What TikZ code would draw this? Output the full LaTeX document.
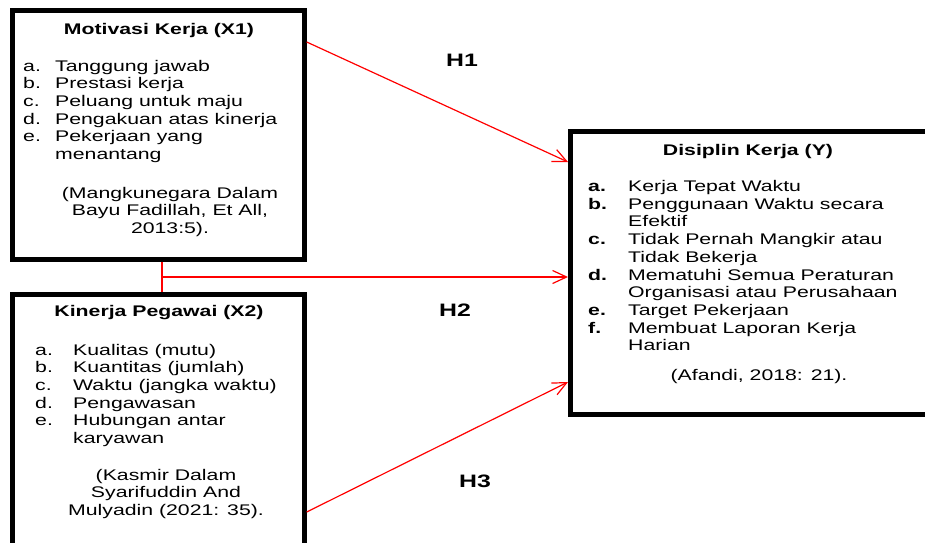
\documentclass[tikz,border=0pt]{standalone}
\usepackage{array}
\usepackage{fontspec}
\setmainfont{Liberation Sans}[FakeStretch=1.38]
\usetikzlibrary{arrows.meta,calc}
\newcommand{\bodysize}{\fontsize{15.4}{17.7}\selectfont}
\tikzset{
	box/.style={draw=black, line width=5pt, anchor=north west, inner sep=0pt},
	txt/.style={inner sep=0pt, font=\bodysize},
	hlabel/.style={inner sep=0pt, font=\fontsize{18}{20}\selectfont\bfseries},
	link/.style={draw=red, line width=1.2pt, -{Straight Barb[length=14pt,width=13pt]}}
}

\begin{document}
\begin{tikzpicture}[x=1pt, y=-1pt]
				\useasboundingbox (0,0) rectangle (925,542);
				
				\node[box, minimum width=291.7pt, minimum height=248.4pt] (x1) at (10,8.3) {};
				\node[txt, anchor=base, font=\bodysize\bfseries] (x1title) at (159,34.5) {Motivasi Kerja (X1)};
				\node[txt, anchor=base west] (x1list) at (23,71) {\begin{tabular}[t]{@{}p{32pt}@{}l@{}}
					a. & Tanggung jawab\\
					b. & Prestasi kerja\\
					c. & Peluang untuk maju\\
					d. & Pengakuan atas kinerja\\
					e. & Pekerjaan yang\\
					   & menantang
				\end{tabular}};
				\node[txt, anchor=base] (x1src) at (170,198) {\begin{tabular}[t]{@{}c@{}}
					(Mangkunegara Dalam\\ Bayu Fadillah, Et All,\\ 2013:5).
				\end{tabular}};
				
				\node[box, minimum width=291.7pt, minimum height=265pt] (x2) at (10,291.7) {};
				\node[txt, anchor=base, font=\bodysize\bfseries] (x2title) at (159,316.7) {Kinerja Pegawai (X2)};
				\node[txt, anchor=base west] (x2list) at (35,355) {\begin{tabular}[t]{@{}p{38pt}@{}l@{}}
					a. & Kualitas (mutu)\\
					b. & Kuantitas (jumlah)\\
					c. & Waktu (jangka waktu)\\
					d. & Pengawasan\\
					e. & Hubungan antar\\
					   & karyawan
				\end{tabular}};
				\node[txt, anchor=base] (x2src) at (166,480) {\begin{tabular}[t]{@{}c@{}}
					(Kasmir Dalam\\ Syarifuddin And\\ Mulyadin (2021: 35).
				\end{tabular}};
				
				\node[box, minimum width=367pt, minimum height=283pt] (y) at (568,129) {};
				\node[txt, anchor=base, font=\bodysize\bfseries] (ytitle) at (748,155) {Disiplin Kerja (Y)};
				\node[txt, anchor=base west] (ylist) at (588,191.5) {\begin{tabular}[t]{@{}>{\bfseries}p{40pt}@{}l@{}}
					a. & Kerja Tepat Waktu\\
					b. & Penggunaan Waktu secara\\
					   & Efektif\\
					c. & Tidak Pernah Mangkir atau\\
					   & Tidak Bekerja\\
					d. & Mematuhi Semua Peraturan\\
					   & Organisasi atau Perusahaan\\
					e. & Target Pekerjaan\\
					f. & Membuat Laporan Kerja\\
					   & Harian
				\end{tabular}};
				\node[txt, anchor=base] (ysrc) at (759,380) {(Afandi, 2018: 21).};
				
				\coordinate (jn) at ($(x1.south)+(3.6pt,-15.3pt)$);
				\draw[link] ([yshift=-33.7pt]x1.north east) -- ([yshift=-33pt]y.north west);
				\draw[red, line width=1.2pt] ([xshift=3.6pt]x1.south) -- ([xshift=3.6pt]x2.north);
				\draw[link] (jn) -- (jn -| y.west);
				\draw[link] ([yshift=-220.3pt]x2.north east) -- ([yshift=-253pt]y.north west);
				
				\node[hlabel] (h1) at (462,60) {H1};
				\node[hlabel] (h2) at (455,310) {H2};
				\node[hlabel] (h3) at (475,481) {H3};
			\end{tikzpicture}
\end{document}
